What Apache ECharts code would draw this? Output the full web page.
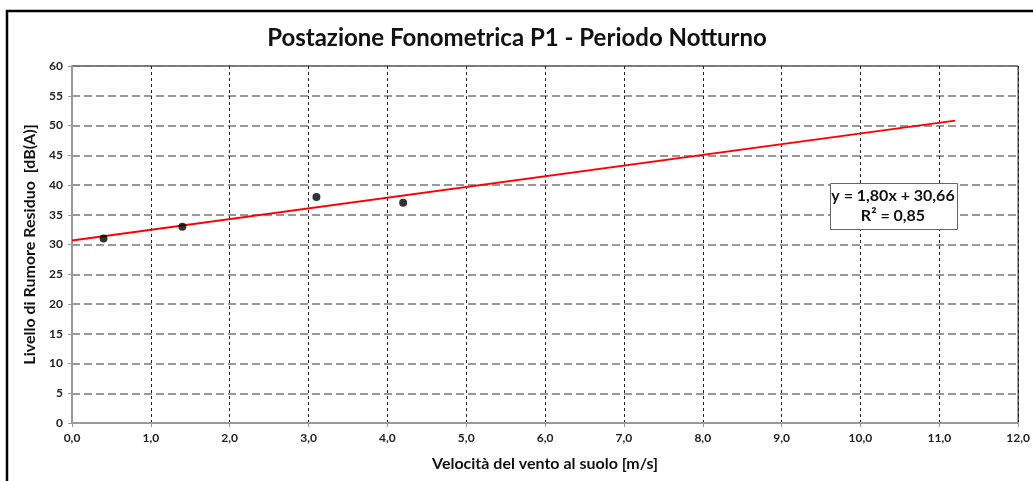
<!DOCTYPE html>
<html>
<head>
<meta charset="utf-8">
<script src="https://cdn.jsdelivr.net/npm/echarts@6/dist/echarts.min.js"></script>
<style>
  html, body { margin: 0; padding: 0; background: #fff; }
  #chart { width: 1033px; height: 481px; }
</style>
</head>
<body>
<div id="chart"></div>
<script>
// Scatter of night-time residual noise vs ground wind speed, with linear trend.
const windSpeed = [0.4, 1.4, 3.1, 4.2];        // m/s
const noiseLevel = [31, 33, 38, 37];           // dB(A)
const trendSlope = 1.80;
const trendIntercept = 30.66;
const trendX = [0, 11.2];                      // trendline drawn range
const equationText = 'y = 1,80x + 30,66\nR² = 0,85';

const FONT = 'Lato, "Open Sans", sans-serif';

const points = windSpeed.map((x, i) => [x, noiseLevel[i]]);
const trend = trendX.map(x => [x, trendSlope * x + trendIntercept]);

const chart = echarts.init(document.getElementById('chart'), null, { renderer: 'canvas' });

chart.setOption({
  backgroundColor: '#fff',
  animation: false,
  textStyle: { fontFamily: FONT },
  title: {
    text: 'Postazione Fonometrica P1 - Periodo Notturno',
    left: 512,
    top: 21,
    textAlign: 'center',
    textStyle: { fontFamily: FONT, fontSize: 24, fontWeight: 'bold', color: '#111' },
  },
  grid: {
    left: 72, right: 13, top: 66, bottom: 58,
    show: true,
    borderColor: '#000',
    borderWidth: 1,
  },
  xAxis: {
    type: 'value',
    min: 0, max: 12, interval: 1,
    name: 'Velocità del vento al suolo [m/s]',
    nameLocation: 'middle',
    nameGap: 33,
    nameTextStyle: { fontFamily: FONT, fontSize: 16, fontWeight: 'bold', color: '#111' },
    axisLine: { onZero: false, lineStyle: { color: '#999', width: 2 } },
    axisTick: { show: true, length: 4, lineStyle: { color: '#999' } },
    axisLabel: {
      color: '#222', fontSize: 12, fontWeight: 'bold', margin: 9,
      formatter: v => v.toFixed(1).replace('.', ','),
    },
    splitLine: { show: true, lineStyle: { color: '#222', width: 1, type: [3, 3] } },
  },
  yAxis: {
    type: 'value',
    min: 0, max: 60, interval: 5,
    name: 'Livello di Rumore Residuo  [dB(A)]',
    nameLocation: 'middle',
    nameGap: 34,
    nameTextStyle: { fontFamily: FONT, fontSize: 16, fontWeight: 'bold', color: '#111' },
    axisLine: { onZero: false, lineStyle: { color: '#999', width: 2 } },
    axisTick: { show: true, length: 4, lineStyle: { color: '#999' } },
    axisLabel: { color: '#222', fontSize: 12, fontWeight: 'bold', margin: 9 },
    splitLine: { show: true, lineStyle: { color: '#777', width: 1.5, type: [8, 4] } },
  },
  series: [
    {
      name: 'Trend',
      type: 'line',
      data: trend,
      showSymbol: false,
      lineStyle: { color: '#ff0000', width: 2 },
      z: 3,
    },
    {
      name: 'Misure',
      type: 'scatter',
      data: points,
      symbol: 'circle',
      symbolSize: 8,
      itemStyle: { color: '#000' },
      z: 4,
    },
  ],
  graphic: [
    {
      type: 'rect',
      shape: { x: 7, y: 11, width: 1200, height: 1000 },
      style: { fill: 'none', stroke: '#000', lineWidth: 2.5 },
      silent: true,
      z: 10,
    },
    {
      type: 'rect',
      shape: { x: 830.5, y: 183.5, width: 127, height: 46 },
      style: { fill: '#fff', stroke: '#666', lineWidth: 1 },
      z: 10,
    },
    {
      type: 'text',
      x: 893,
      y: 206,
      z: 11,
      style: {
        text: equationText,
        font: 'bold 16px ' + FONT,
        fill: '#111',
        align: 'center',
        verticalAlign: 'middle',
        lineHeight: 20,
      },
    },
  ],
});
</script>
</body>
</html>
